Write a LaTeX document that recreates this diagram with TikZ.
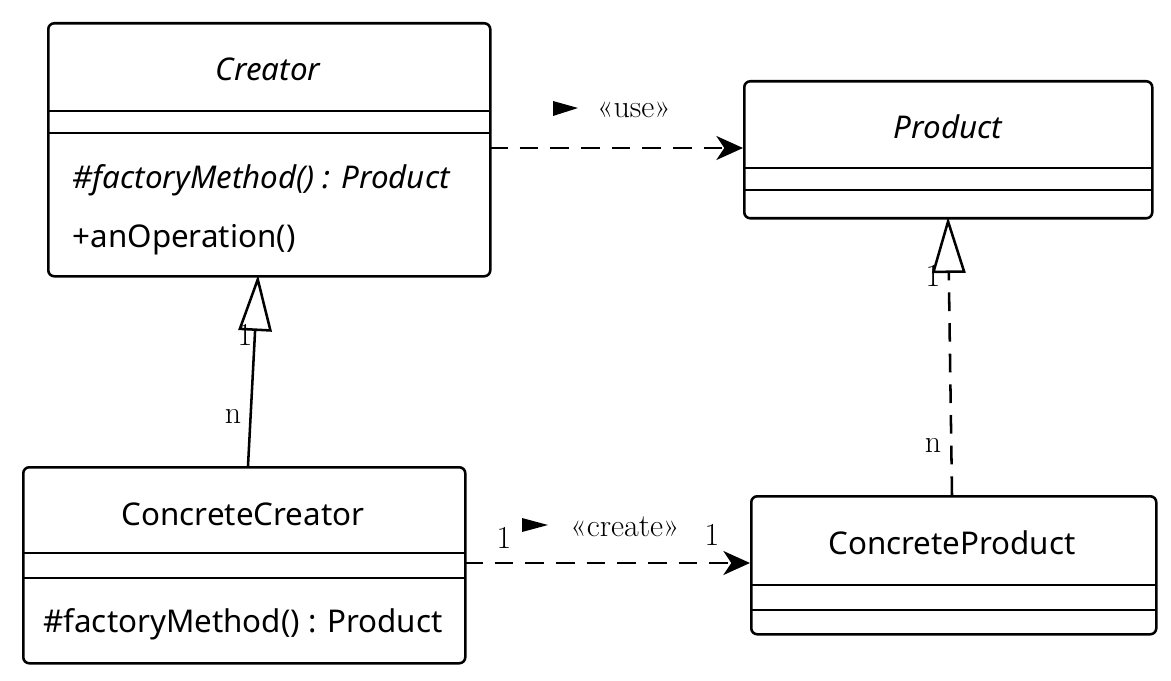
\documentclass[tikz,border=0pt]{standalone}
\usepackage{fontspec}
\setmainfont{Noto Sans}
\newfontfamily\lblfont{Latin Modern Roman}
\usetikzlibrary{arrows.meta}
\begin{document}
\begin{tikzpicture}[x=0.75pt,y=-0.75pt,
  box/.style={draw,line width=1.9pt,rounded corners=4.5pt},
  sep/.style={line width=1.9pt},
  txt/.style={font=\fontsize{23.5}{28}\selectfont},
  itxt/.style={font=\fontsize{23.5}{28}\selectfont\itshape},
  lbl/.style={font=\lblfont\fontsize{24}{28}\selectfont},
  conn/.style={line width=1.9pt},
  dashed conn/.style={conn,dash pattern=on 14pt off 9pt},
  usearr/.style={-{Stealth[length=20pt,width=18pt,inset=6pt]}},
  inh/.style={-{Triangle[open,length=42pt,width=25pt,line width=1.9pt]}}]
\useasboundingbox (0,0) rectangle (1171,681);
% Creator
\node[box,minimum width=442*0.75pt,minimum height=253*0.75pt,anchor=north west] (cr) at (47,22) {};
\draw[sep] (47,111) -- (489,111) (47,133) -- (489,133);
\node[itxt] (crt) at (268,69) {Creator};
\node[itxt,anchor=west] (crm) at (68,180) {\#factoryMethod() : Product};
\node[txt,anchor=west] (cro) at (68,240) {+anOperation()};
% Product
\node[box,minimum width=408*0.75pt,minimum height=137*0.75pt,anchor=north west] (pr) at (743,80) {};
\draw[sep] (743,168) -- (1151,168) (743,190) -- (1151,190);
\node[itxt] (prt) at (948,127) {Product};
% ConcreteCreator
\node[box,minimum width=442*0.75pt,minimum height=196*0.75pt,anchor=north west] (cc) at (22,466) {};
\draw[sep] (22,553) -- (464,553) (22,578) -- (464,578);
\node[txt] (cct) at (243,514) {ConcreteCreator};
\node[txt] (ccm) at (243,624) {\#factoryMethod() : Product};
% ConcreteProduct
\node[box,minimum width=405*0.75pt,minimum height=138*0.75pt,anchor=north west] (cp) at (750,495) {};
\draw[sep] (750,585) -- (1155,585) (750,610) -- (1155,610);
\node[txt] (cpt) at (952,543) {ConcreteProduct};
% connectors
\coordinate (u1) at (489,148); \coordinate (u2) at (743,148);
\draw[dashed conn,usearr] (u1) -- (u2);
\node[lbl] (use) at (634,110) {«use»};
\fill (553,101) -- (578,108) -- (553,116) -- cycle;
\coordinate (c1) at (464,563); \coordinate (c2) at (750,563);
\draw[dashed conn,usearr] (c1) -- (c2);
\node[lbl] (cre) at (625,527) {«create»};
\fill (522,518) -- (548,525) -- (522,532) -- cycle;
\node[lbl] at (504,538) {1};
\node[lbl] at (712,535) {1};
\coordinate (g1) at (248,466); \coordinate (g2) at (258,275);
\draw[conn,inh] (g1) -- (g2);
\node[lbl] at (245,335) {1};
\node[lbl] at (233,416) {n};
\coordinate (r1) at (952,495); \coordinate (r2) at (948,217);
\draw[dashed conn,inh] (r1) -- (r2);
\node[lbl] at (933,276) {1};
\node[lbl] at (933,445) {n};
\end{tikzpicture}
\end{document}
